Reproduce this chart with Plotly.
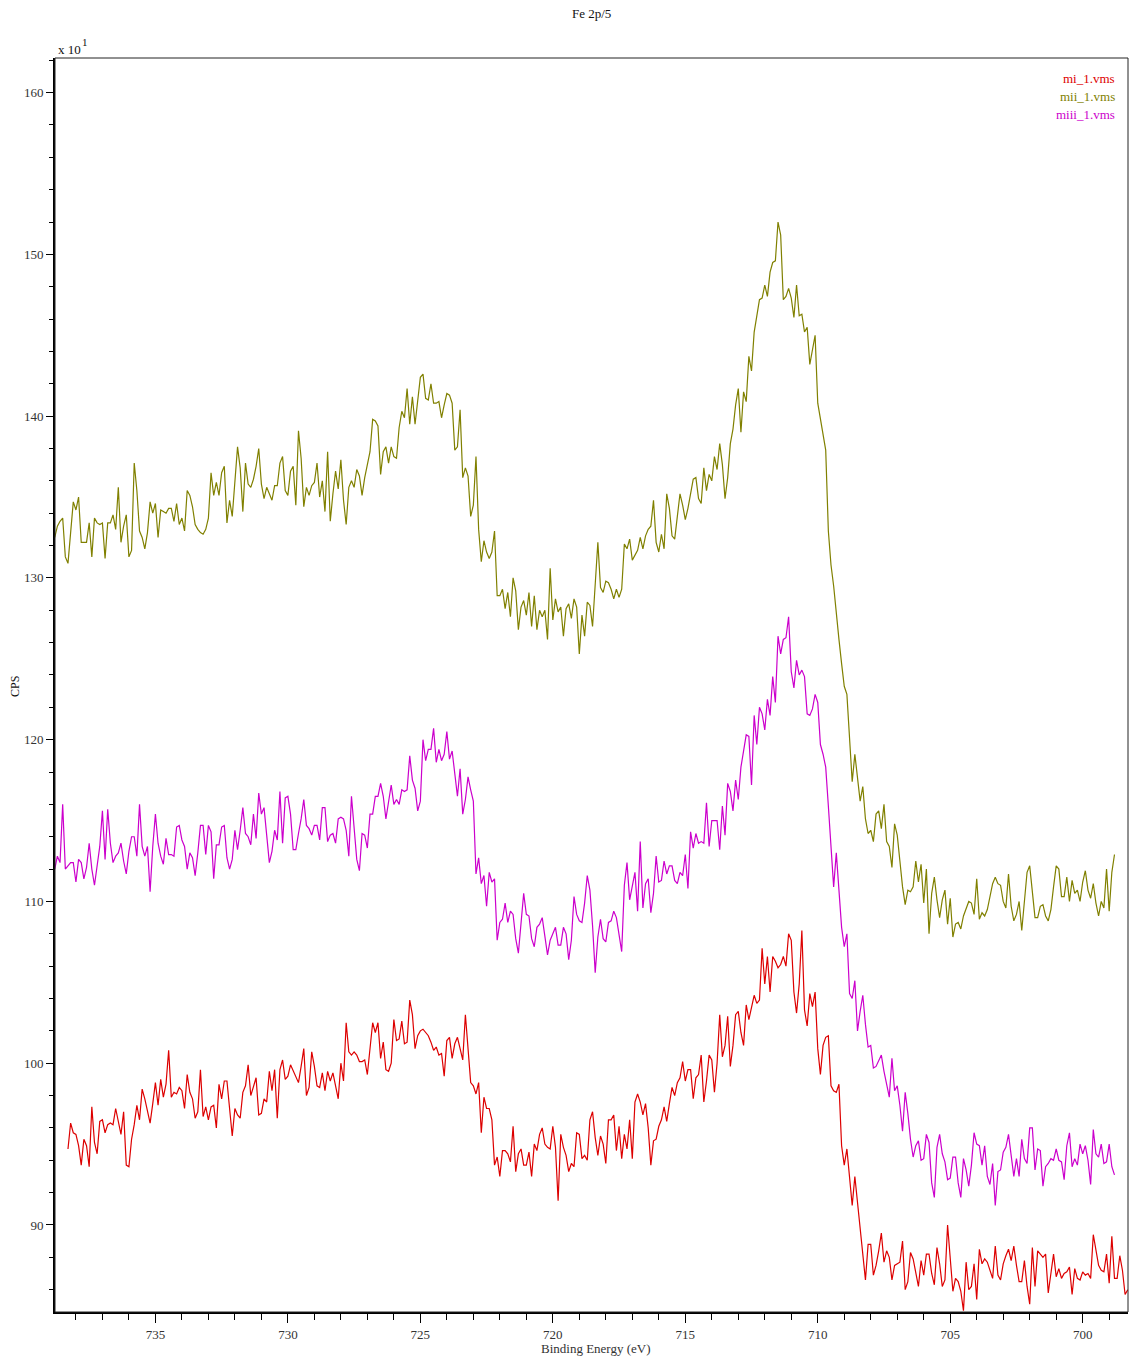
import numpy as np
import plotly.graph_objects as go

# Fe 2p region, three samples; intensities in CPS / 10, sampled every 0.1 eV
STEP = 0.1
start_mi = 738.3
start_mii = 738.8
start_miii = 738.8

cps_mi = [
    94.7, 96.3, 95.7, 95.6, 94.9, 93.7, 95.3, 94.9, 93.6, 97.3,
    95.1, 94.4, 96.4, 96.5, 95.7, 96.2, 96.3, 96.2, 97.2, 96.4,
    95.6, 97.0, 93.7, 93.6, 95.3, 96.2, 97.4, 96.5, 98.4, 97.8,
    97.0, 96.3, 97.5, 98.8, 97.4, 99.0, 97.9, 98.7, 100.8, 97.9,
    98.2, 98.1, 98.5, 98.3, 97.2, 99.3, 98.2, 97.8, 96.6, 97.0,
    99.6, 96.7, 97.3, 96.5, 97.3, 97.4, 96.0, 98.7, 97.8, 98.9,
    98.9, 97.3, 95.5, 97.2, 96.8, 96.6, 98.2, 98.6, 99.9, 98.0,
    98.5, 99.1, 96.8, 96.9, 97.8, 97.6, 99.5, 98.3, 99.6, 96.6,
    99.6, 100.2, 99.0, 99.2, 99.9, 99.5, 99.1, 98.8, 99.8, 100.9,
    98.0, 98.5, 100.7, 99.8, 98.6, 98.5, 99.4, 98.3, 99.5, 98.9,
    99.4, 98.5, 97.8, 100.0, 98.9, 102.5, 100.7, 100.5, 100.7, 100.5,
    100.1, 100.1, 100.2, 99.3, 100.8, 102.5, 101.9, 102.5, 100.3, 101.3,
    99.6, 99.5, 100.0, 102.7, 101.4, 101.5, 102.6, 101.2, 101.3, 103.9,
    103.0, 100.9,
    101.7, 102.0, 102.1, 101.9, 101.7, 101.3, 100.8, 101.0, 100.5, 100.6,
    99.2, 101.4, 101.6, 100.3, 101.2, 101.6, 100.8, 100.2, 103.0, 101.1,
    98.8, 98.6, 98.1, 98.8, 95.7, 97.9, 97.2, 97.2, 96.5, 93.7,
    94.2, 93.0, 94.6, 94.6, 94.4, 93.9, 96.1, 93.3, 94.4, 94.7,
    93.7, 93.7, 94.5, 93.0, 95.0, 94.6, 95.6, 96.0, 95.0, 94.8,
    94.7, 96.1, 94.8, 91.5, 95.6, 94.8, 94.3, 93.3, 93.8, 93.6,
    95.7, 95.6, 94.1, 94.3, 94.0, 96.5, 97.0, 95.4, 94.3, 95.5,
    95.0, 93.8, 96.5, 96.5, 96.8, 94.6, 96.1, 94.1, 95.6, 94.7,
    96.5, 94.1, 97.6, 98.1, 97.6, 96.8, 97.5, 96.0, 93.7, 95.2,
    95.3, 96.1, 96.5, 97.3, 96.4, 97.5, 98.5, 98.0, 98.8, 99.1,
    100.1, 98.9, 99.6, 99.6, 97.8, 99.1, 99.3, 100.5, 97.6, 98.9,
    100.5, 100.2, 98.2, 100.0, 103.0, 100.4, 101.1, 102.9, 99.8, 101.1,
    103.0, 103.2, 101.9, 101.1, 103.6, 102.7, 103.5, 104.2, 103.7, 103.9,
    107.1, 104.9, 106.6, 104.4, 106.6, 106.3, 105.9, 106.1,
    106.6, 106.0, 108.0, 107.6, 104.4, 103.1, 104.9, 108.2, 103.3, 102.3,
    104.3, 103.5, 104.4, 100.9, 99.3, 101.1, 101.6, 101.7, 98.6, 98.3,
    98.2, 98.7, 94.9, 93.7, 94.7, 93.0, 91.2, 93.0, 91.4, 89.5,
    88.3, 86.6, 88.8, 88.8, 86.9, 87.5, 88.4, 89.5, 87.7, 88.4,
    88.0, 86.6, 87.5, 87.6, 87.7, 89.0, 86.0, 86.5, 88.3, 87.9,
    87.0, 86.2, 87.8, 86.9, 88.2, 88.2, 87.0, 86.3, 88.6, 87.6,
    86.2, 86.6, 90.0, 88.1, 85.9, 86.7, 86.5, 85.9, 84.7, 87.7,
    86.0, 86.2, 87.6, 85.4, 88.5, 87.6, 87.9, 87.7, 87.2, 86.7,
    88.7, 86.9, 86.6, 87.6, 88.1, 88.5, 87.8, 88.7, 87.5, 86.5,
    86.5, 87.8, 86.2, 85.1, 88.6, 86.2, 88.4, 88.2, 88.0, 88.2,
    85.8, 87.0, 88.2, 86.8, 87.3, 86.7, 87.0, 87.1, 87.4, 85.7,
    87.3, 86.7, 86.6, 87.1, 86.9, 87.0, 86.7, 89.4, 88.3, 87.5,
    87.2, 87.1, 88.2, 86.4, 89.3, 86.7, 86.7, 88.1, 87.2, 85.7,
    86.0,
]

cps_mii = [
    132.5, 133.2, 133.5, 133.7, 131.3, 130.9, 132.8, 134.7, 134.2, 135.0,
    132.2, 132.2, 132.2, 133.4, 131.3, 133.7, 133.4, 133.3, 133.4, 131.2,
    133.4, 133.4, 133.9, 133.0, 135.6, 132.2, 133.2, 133.9, 131.3, 131.7,
    137.1, 135.4, 132.9, 132.5, 131.8, 132.8, 134.7, 134.0, 134.6, 132.5,
    134.2, 134.1, 134.0, 134.3, 134.3, 133.5, 134.6, 133.3, 133.7, 132.9,
    135.4, 135.1, 134.4, 133.3, 133.0, 132.8, 132.7, 133.0, 133.7, 136.5,
    135.1, 135.9, 135.1, 136.5, 136.9, 133.4, 134.8, 133.8, 135.7, 138.1,
    136.8, 134.1, 137.1, 135.8, 135.6, 136.1, 136.9, 138.0, 135.8, 134.9,
    135.6, 135.2, 134.8, 135.7, 135.7, 137.1, 137.5, 135.4, 135.1, 136.6,
    136.9, 134.5, 139.1, 137.4, 134.4, 135.6, 135.1, 135.7, 135.9, 137.1,
    135.0, 136.0, 134.1, 137.8, 133.5, 135.2, 136.6, 135.5, 137.3, 134.8,
    133.3, 135.6, 136.0, 135.6, 136.7, 136.3, 135.1, 136.2, 137.1, 137.8,
    139.8, 139.7, 139.4, 136.4, 137.8, 138.1, 137.1, 138.1, 137.5, 137.4,
    139.3, 140.3, 139.9, 141.7, 139.5, 141.2, 139.5,
    140.8, 142.4, 142.6, 141.1, 141.0, 142.0, 140.8, 140.8, 140.9, 139.9,
    140.7, 141.4, 141.3, 140.8, 137.9, 138.1, 140.4, 136.2, 136.8, 136.3,
    133.8, 134.5, 137.5, 133.0, 131.0, 132.3, 131.6, 131.2, 131.6, 132.9,
    128.9, 128.9, 129.3, 128.1, 129.1, 127.6, 130.0, 129.2, 126.8, 128.2,
    128.6, 127.7, 129.1, 127.0, 128.9, 126.8, 128.0, 127.6, 128.0, 126.2,
    130.6, 127.4, 128.7, 127.9, 128.2, 126.4, 128.1, 128.4, 127.5, 128.7,
    128.2, 125.3, 127.7, 126.4, 128.5, 128.3, 127.0, 129.3, 132.2, 129.4,
    129.1, 129.8, 129.7, 129.3, 128.7, 129.3, 128.8, 129.3, 132.1, 131.8,
    132.4, 131.1, 131.4, 131.7, 132.5, 131.8, 132.6, 133.0, 133.2, 134.8,
    132.2, 131.6, 132.7, 131.8, 135.2, 134.3, 132.6, 132.4, 133.8, 135.2,
    134.5, 133.6, 134.3, 135.2, 136.1, 136.2, 134.9, 134.6, 136.8, 135.4,
    136.4, 136.0, 137.5, 136.7, 138.3, 137.0, 134.9, 136.2, 138.3, 139.2,
    140.7, 141.7, 139.0, 141.5, 140.9,
    143.7, 142.8, 145.2, 146.2, 147.2, 147.3, 148.1, 147.4, 148.9, 149.5,
    149.6, 152.0, 151.2, 147.2, 147.4, 147.9, 147.3, 146.1, 148.1, 146.2,
    146.3, 145.2, 145.5, 143.2, 144.1, 145.0, 140.8, 139.8, 138.7, 137.9,
    132.9, 130.8, 129.5, 127.7, 126.2, 124.7, 123.3, 122.8, 120.0, 117.4,
    119.1, 117.6, 116.2, 117.1, 115.1, 114.2, 114.4, 113.7, 115.4, 115.6,
    114.5, 116.0, 113.7, 113.4, 112.1, 114.8, 114.1, 112.5, 110.9, 109.8,
    110.7, 110.6, 110.9, 112.5, 111.2, 112.3, 109.9, 112.0, 108.0, 110.5,
    111.5, 110.1, 109.0, 110.1, 110.7, 108.6, 110.2, 107.8, 108.6, 108.7,
    108.3, 109.1, 109.6, 110.0, 109.9, 109.2, 111.4, 108.9, 109.3, 109.1,
    109.5, 110.3, 111.1, 111.5, 111.1, 111.0, 110.0, 109.6, 111.7, 109.7,
    108.8, 109.2, 110.0, 108.2, 110.2, 111.8, 112.2, 110.5, 109.0, 109.0,
    109.7, 109.8, 109.1, 108.8, 109.5, 110.9, 112.2, 112.0, 110.3, 110.3,
    111.5, 110.0, 111.3, 110.5, 110.7, 110.0, 111.2, 111.9, 110.7, 110.2,
    111.1, 109.9, 109.1, 110.0, 109.6, 112.0, 109.4, 111.8, 112.9,
]

cps_miii = [
    112.0, 112.8, 112.4, 116.0, 112.0, 112.2, 112.4, 112.4, 111.2, 112.6,
    112.4, 111.4, 112.1, 113.6, 112.0, 111.0, 112.3, 113.4, 115.6, 112.6,
    115.7, 113.6, 112.4, 112.8, 113.0, 113.6, 112.5, 111.7, 113.1, 114.0,
    114.0, 112.8, 116.0, 113.4, 112.8, 113.4, 110.6, 113.4, 115.4, 113.6,
    112.8, 112.3, 113.9, 112.9, 112.9, 112.8, 114.6, 114.7, 113.8, 113.4,
    112.0, 113.0, 112.7, 111.6, 113.0, 114.7, 114.7, 112.9, 114.7, 114.3,
    111.4, 113.5, 113.5, 114.6, 114.7, 112.7, 112.0, 112.6, 114.4, 113.2,
    114.4, 115.8, 114.2, 114.0, 113.5, 115.4, 113.9, 116.7, 115.4, 115.8,
    114.1, 112.4, 113.1, 114.4, 113.8, 116.8, 113.6, 116.4, 116.5, 115.4,
    113.2, 113.2, 114.2, 115.1, 116.3, 114.7, 114.5, 114.1, 114.7, 114.7,
    113.8, 115.8, 115.8, 113.7, 114.1, 114.2, 113.6, 115.1, 115.2, 115.1,
    114.4, 112.8, 116.5, 114.6, 112.6, 111.9, 114.2, 114.1, 113.3, 115.4,
    115.4, 116.5, 116.5, 117.3, 116.5, 115.1, 116.1, 117.2, 116.0, 116.3,
    116.0, 116.9, 116.8, 116.9, 119.0, 117.5,
    117.0, 115.6, 116.2, 120.0, 118.7, 119.4, 119.4, 120.7, 118.6, 119.4,
    118.7, 119.1, 120.5, 118.8, 119.3, 117.8, 116.5, 118.2, 115.4, 116.3,
    117.7, 116.9, 116.2, 111.7, 112.7, 111.1, 111.6, 109.7, 111.8, 111.2,
    111.4, 107.6, 108.7, 108.9, 109.9, 108.7, 109.4, 109.2, 107.7, 106.8,
    108.7, 110.5, 109.2, 109.1, 107.7, 107.2, 108.4, 108.6, 109.0, 107.8,
    106.7, 107.6, 108.0, 108.4, 107.3, 107.3, 108.4, 108.0, 106.4, 107.6,
    110.3, 109.2, 108.8, 108.7, 109.9, 111.6, 110.7, 108.5, 105.6, 107.8,
    108.9, 107.7, 107.5, 108.7, 108.8, 109.4, 109.0, 107.9, 106.9, 111.0,
    112.4, 110.1, 111.0, 111.8, 109.4, 113.7, 109.6, 111.1, 111.4, 109.3,
    110.5, 112.8, 111.2, 111.3, 112.5, 111.7, 112.2, 112.2, 111.3, 111.1,
    111.8, 111.6, 112.9, 110.8, 114.3, 113.3, 114.2, 113.6, 113.7, 113.6,
    116.1, 113.4, 115.0, 115.0, 115.0, 113.2, 115.9, 114.1, 117.3, 116.8,
    115.6, 117.5, 116.3,
    118.3, 119.4, 120.3, 120.2, 117.2, 121.5, 119.7, 122.0, 121.6, 120.6,
    122.5, 121.5, 123.9, 122.3, 126.4, 125.3, 126.2, 126.3, 127.6, 124.2,
    123.2, 124.9, 124.0, 124.3, 123.9, 121.6, 121.5, 121.9, 122.8, 122.3,
    119.7, 119.1, 118.3, 115.9, 113.6, 110.9, 113.0, 110.5, 108.4, 107.2,
    108.0,
    104.3, 104.0, 105.1, 102.0, 103.2, 104.2, 102.4, 101.0, 101.1, 99.7,
    99.8, 100.2, 100.5, 99.5, 98.8, 97.9, 100.3, 98.3, 98.6, 97.4,
    95.8, 98.2, 96.9, 95.3, 94.2, 94.9, 95.2, 94.0, 94.1, 95.6,
    95.1, 92.6, 91.7, 94.8, 95.6, 94.4, 93.9, 92.8, 92.9, 94.2,
    94.2, 92.6, 91.7, 94.1, 93.4, 92.4, 93.7, 95.7, 95.0, 94.9,
    93.7, 94.9, 93.0, 92.5, 93.8, 91.2, 93.3, 93.4, 94.5, 94.8,
    95.6, 94.1, 93.0, 94.1, 93.0, 95.3, 94.1, 93.8, 96.0, 96.0,
    93.4, 94.7, 94.6, 92.4, 93.6, 93.8, 94.1, 94.0, 94.7, 94.0,
    93.9, 92.8, 94.9, 95.7, 93.6, 94.1, 93.7, 95.0, 94.4, 94.9,
    94.0, 92.5, 95.9, 94.4, 94.2, 95.0, 93.8, 93.9, 95.0, 93.6,
    93.1,
]

series_names = ["mi_1.vms", "mii_1.vms", "miii_1.vms"]
series_colors = ["#dd0000", "#808000", "#cc00cc"]
series_starts = [start_mi, start_mii, start_miii]
series_values = [cps_mi, cps_mii, cps_miii]

x_range = [738.79, 698.29]
y_range = [84.62, 162.14]
x_ticks = [735, 730, 725, 720, 715, 710, 705, 700]
y_ticks = [90, 100, 110, 120, 130, 140, 150, 160]

FONT = "Liberation Serif, Times New Roman, serif"
TXT = "#333333"

fig = go.Figure()
for name, color, start, vals in zip(series_names, series_colors, series_starts, series_values):
    be = np.round(start - STEP * np.arange(len(vals)), 2)
    fig.add_trace(go.Scatter(
        x=be, y=vals, mode="lines", name=name,
        line=dict(color=color, width=1.2), showlegend=False,
    ))

fig.update_layout(
    width=1129, height=1360,
    margin=dict(l=55, r=1, t=58, b=48),
    paper_bgcolor="white", plot_bgcolor="white",
    font=dict(family=FONT, size=13, color=TXT),
    showlegend=False,
)

fig.update_xaxes(
    range=x_range, tickvals=x_ticks, ticktext=[str(t) for t in x_ticks],
    ticks="outside", ticklen=9, tickwidth=1, tickcolor="black",
    showline=True, linecolor="black", linewidth=1.8,
    showgrid=False, zeroline=False,
    tickfont=dict(family=FONT, size=13, color=TXT),
    minor=dict(dtick=1, tick0=700, ticks="outside", ticklen=6, tickwidth=1,
               tickcolor="black", showgrid=False),
)
fig.update_yaxes(
    range=y_range, tickvals=y_ticks, ticktext=[str(t) for t in y_ticks],
    ticks="outside", ticklen=7, tickwidth=1, tickcolor="black",
    showline=True, linecolor="black", linewidth=1.8,
    showgrid=False, zeroline=False,
    tickfont=dict(family=FONT, size=13, color=TXT),
    minor=dict(dtick=2, tick0=0, ticks="outside", ticklen=4, tickwidth=1,
               tickcolor="black", showgrid=False),
)

# thin frame along the top and right of the plotting area
fig.add_shape(type="rect", xref="paper", yref="paper", x0=0, y0=0, x1=1, y1=1,
              line=dict(color="#222222", width=1), layer="above")

annotations = [
    dict(text="Fe 2p/5", x=0.5, y=1.0351, xanchor="center", yanchor="middle",
         font=dict(family=FONT, size=13, color="#111111")),
    # axis multiplier written as "x 10" with a raised exponent
    dict(text="x 10", x=0.0005, y=1.0064, xanchor="left", yanchor="middle",
         font=dict(family=FONT, size=13, color="#111111")),
    dict(text="1", x=0.0235, y=1.0128, xanchor="left", yanchor="middle",
         font=dict(family=FONT, size=11, color="#111111")),
    dict(text="CPS", x=-0.0373, y=0.4992, xanchor="center", yanchor="middle",
         textangle=-90, font=dict(family=FONT, size=12, color="#111111")),
    dict(text="Binding Energy (eV)", x=0.5042, y=-0.0295, xanchor="center",
         yanchor="middle", font=dict(family=FONT, size=13, color=TXT)),
]
legend_y = [0.98405, 0.96890, 0.95455]
for name, color, ly in zip(series_names, series_colors, legend_y):
    annotations.append(dict(text=name, x=0.9900, y=ly, xanchor="right",
                            yanchor="middle", font=dict(family=FONT, size=13, color=color)))
for a in annotations:
    a.update(xref="paper", yref="paper", showarrow=False)
fig.update_layout(annotations=annotations)

fig.write_html("out.html")
